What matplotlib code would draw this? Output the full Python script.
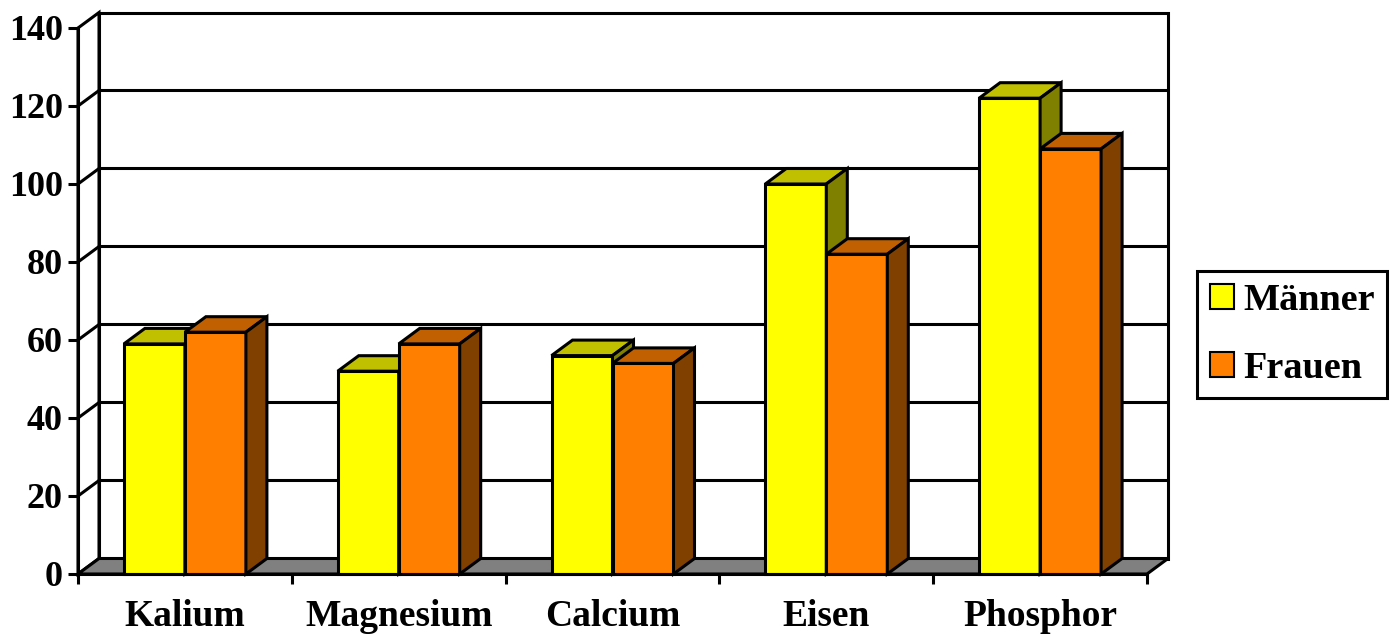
import matplotlib
matplotlib.use("Agg")
import matplotlib.pyplot as plt
from matplotlib.patches import Polygon, Patch

kategorien = ["Kalium", "Magnesium", "Calcium", "Eisen", "Phosphor"]
maenner = [59, 52, 56, 100, 122]
frauen = [62, 59, 54, 82, 109]
y_ticks = [0, 20, 40, 60, 80, 100, 120, 140]

# Farben: Vorderseite, Deckel, Seite
farben_m = ("#FFFF00", "#C0C000", "#808000")
farben_f = ("#FF8000", "#C06000", "#804000")

plt.rcParams['font.family'] = ['Liberation Serif', 'DejaVu Serif']
plt.rcParams['font.weight'] = 'bold'

W, H = 1399, 635
fig = plt.figure(figsize=(W / 100, H / 100), dpi=100)

# vordere Ebene des Diagramms (Pixel)
x0, x1 = 78, 1147
y0, y1 = 574, 28
ax = fig.add_axes([x0 / W, (H - y0) / H, (x1 - x0) / W, (y0 - y1) / H])
n = len(kategorien)
ymax = y_ticks[-1]
ax.set_xlim(0, n)
ax.set_ylim(0, ymax)

# Tiefe des 3D-Effekts in Datenkoordinaten
px_x = n / (x1 - x0)
px_y = ymax / (y0 - y1)
dx = 21 * px_x
dy = 15.5 * px_y
bw = 61 * px_x
lw = 2.2


def poly(pts, fc, z):
    ax.add_patch(Polygon(pts, closed=True, facecolor=fc, edgecolor="black",
                         linewidth=lw, joinstyle="miter", clip_on=False, zorder=z))


# Rückwand, linke Wand, Boden
poly([(dx, dy), (n + dx, dy), (n + dx, ymax + dy), (dx, ymax + dy)], "white", 0.5)
poly([(0, 0), (dx, dy), (dx, ymax + dy), (0, ymax)], "white", 0.5)
for v in y_ticks[1:-1]:
    ax.plot([0, dx, n + dx], [v, v + dy, v + dy], color="black", lw=lw,
            clip_on=False, zorder=0.6)
poly([(0, 0), (n, 0), (n + dx, dy), (dx, dy)], "#808080", 0.7)


def saeule(xl, h, farben, z):
    xr = xl + bw
    front, top, side = farben
    poly([(xl, 0), (xr, 0), (xr, h), (xl, h)], front, z)
    poly([(xl, h), (xr, h), (xr + dx, h + dy), (xl + dx, h + dy)], top, z)
    poly([(xr, 0), (xr + dx, dy), (xr + dx, h + dy), (xr, h)], side, z)


for i in range(n):
    c = i + 0.5
    saeule(c - bw, maenner[i], farben_m, 1 + i * 0.1)
    saeule(c, frauen[i], farben_f, 1.05 + i * 0.1)

# Achsen
for s in ("top", "right"):
    ax.spines[s].set_visible(False)
for s in ("left", "bottom"):
    ax.spines[s].set_linewidth(lw)
    ax.spines[s].set_zorder(3)

ax.set_yticks(y_ticks)
ax.tick_params(axis="y", direction="out", length=7, width=lw, labelsize=26, pad=4)
ax.set_xticks(range(n + 1))
ax.set_xticklabels([])
ax.set_xticks([i + 0.5 for i in range(n)], minor=True)
ax.set_xticklabels(kategorien, minor=True)
ax.tick_params(axis="x", which="major", direction="out", length=7, width=lw)
ax.tick_params(axis="x", which="minor", length=0, labelsize=27, pad=18)

handles = [Patch(facecolor=farben_m[0], edgecolor="black", linewidth=1.5),
           Patch(facecolor=farben_f[0], edgecolor="black", linewidth=1.5)]
leg = ax.legend(handles, ["Männer", "Frauen"], loc="center left",
                bbox_to_anchor=(1197 / W, (H - 334.5) / H),
                bbox_transform=fig.transFigure, fontsize=27.5, frameon=True,
                fancybox=False, framealpha=1, edgecolor="black",
                handlelength=0.63, handleheight=0.63, handletextpad=0.25,
                labelspacing=0.85, borderpad=0.33, borderaxespad=0)
leg.get_frame().set_linewidth(lw)

fig.savefig("out.png", dpi=100)
